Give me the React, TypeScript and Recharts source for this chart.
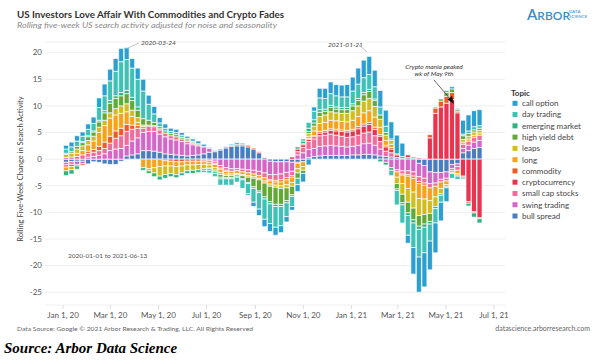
import React from 'react';
import { BarChart, Bar, XAxis, YAxis, CartesianGrid } from 'recharts';

// weekly buckets, 2020-01-05 .. 2021-06-13 (days counted from 2020-01-01)
const originDate = Date.UTC(2020, 0, 1);
const firstWeek = Date.UTC(2020, 0, 5);
const lastWeek = Date.UTC(2021, 5, 13);
const DAY = 86400000;

const topics = ['call option', 'day trading', 'emerging market', 'high yield debt', 'leaps', 'long', 'commodity', 'cryptocurrency', 'small cap stocks', 'swing trading', 'bull spread'];
const topicColors = ['#2b9fd0', '#3fc1b6', '#2db37c', '#62a937', '#d2bc22', '#f8a21c', '#ed5b26', '#e8344e', '#f06c9b', '#d466c8', '#4a7cc0'];

const callOption = [0.7, 0.9, 1.0, 0.8, 1.0, 1.2, 1.8, 2.2, 2.2, 2.4, 2.5, 2.2, 1.8, 2.1, 2.2, 1.7, 1.4, 1.0, 0.8, 0.6, 0.6, 0.5, 0.4, 0.4, 0.5, 0.4, 0.2, 0.2, 0.2, 0.2, 0.2, 0.3, 0.2, -0.3, -0.8, -1.2, -1.4, -1.5, -1.5, -1.3, -1.0, -0.7, -1.3, -1.6, -1.1, 0.8, 1.8, 1.9, 2.2, 2.1, 2.2, 2.3, 2.6, 3.0, 3.3, 3.4, 3.1, 3.1, 3.0, 3.2, 3.5, 2.5, -1.5, -5.0, -6.6, -6.4, -5.4, -5.6, -3.5, -2.6, 0.4, 0.2, 2.6, 3.0, 3.0, 3.0];
const dayTrading = [0.8, 0.9, 1.0, 1.0, 1.2, 1.4, 2.4, 2.8, 3.7, 4.6, 5.8, 5.8, 5.5, 5.2, 5.2, 3.0, 1.6, 0.7, 0.5, 0.4, 0.4, 0.4, 0.3, 0.2, -0.2, -0.4, -0.5, -0.6, -1.2, -1.2, -1.2, -0.9, -1.6, -1.9, -2.6, -3.1, -3.8, -3.7, -3.9, -3.6, -2.6, -1.9, -1.2, 0.4, 1.1, 1.6, 2.2, 2.0, 2.2, 2.1, 2.0, 2.0, 2.4, 2.7, 2.8, 2.8, 2.3, 1.5, 1.2, -1.0, -2.7, -3.4, -3.7, -4.6, -5.2, -4.8, -3.2, -2.7, -1.3, 0.4, -0.9, -0.6, 0.3, 0.5, 0.6, 0.5];
const emergingMarket = [-0.9, -0.8, -0.6, 0.2, 0.2, 0.2, 0.3, 0.4, 0.5, 0.5, 0.6, 0.6, 0.6, 0.6, -0.5, -0.5, -0.7, -0.7, -0.7, -0.6, -0.6, -0.5, -0.5, -0.6, -0.5, -0.3, -0.3, -0.3, -0.3, -0.2, -0.2, -0.2, -0.2, -0.2, -0.3, -0.3, -0.4, -0.4, -0.4, -0.4, -0.4, -0.3, 0.4, 0.5, 0.6, 0.6, 0.5, 0.4, 0.4, 0.4, 0.4, 0.4, 0.4, 0.4, 0.4, 0.4, 0.3, -0.5, -0.5, -0.5, -0.3, -0.4, -0.5, -0.6, -0.6, -0.6, -0.5, -0.4, -0.3, -0.2, 0, -0.2, -0.3, -0.5, -0.8, -0.8];
const highYieldDebt = [0.2, 0.3, 0.5, 0.6, 0.7, 0.8, 1.0, 1.4, 1.8, 1.9, 1.9, 1.9, 1.8, 1.4, 1.2, 0.9, 0.6, 0.4, 0.4, 0.4, 0.4, 0.3, 0.3, 0.2, 0.2, 0.1, -0.1, -0.3, -0.5, -0.4, -0.4, -0.3, -0.6, -1.0, -1.6, -2.1, -2.6, -2.9, -3.2, -3.0, -2.4, -1.6, -1.0, -0.6, 0.4, 0.6, 0.8, 0.7, 0.8, 0.7, 0.7, 0.7, 0.9, 1.0, 1.2, 1.3, 1.1, 0.8, 0.5, 0.3, -1.0, -1.6, -2.0, -2.2, -2.0, -1.8, -1.5, 0.2, 0.4, 0.7, 0.7, 0.3, 0.7, 0.5, 0.4, 0.4];
const leaps = [0.6, 0.7, 0.8, 0.9, 0.8, 0.9, 1.0, 1.0, 1.0, 1.2, 1.4, 1.5, 1.2, 0.9, 0.3, -0.4, -1.0, -1.8, -1.6, -1.4, -1.5, -1.3, -1.1, -1.0, -1.0, -0.8, -0.6, -0.5, -0.4, -0.3, -0.3, -0.2, -0.2, -0.3, -0.3, -0.3, -0.4, -0.4, -0.4, -0.5, -0.6, -0.7, -0.8, -0.7, 0.5, 0.9, 1.3, 1.4, 1.6, 1.5, 1.5, 1.6, 1.8, 2.0, 2.2, 2.3, 2.0, 1.5, 1.0, 0.7, -1.2, -2.0, -2.6, -3.0, -3.2, -2.9, -2.4, -1.8, -1.0, -0.4, -0.2, -0.3, 0.5, 0.5, 0.6, 0.5];
const long = [-0.7, -0.6, 0.6, 0.8, 1.2, 1.6, 2.6, 3.1, 3.4, 3.0, 2.8, 2.4, 1.6, 0.6, -1.6, -1.8, -1.6, -1.4, -1.0, -0.9, -0.9, -0.8, -0.7, -0.7, -0.6, -0.5, -0.5, -0.6, -0.6, -0.5, -0.5, -0.5, -0.5, -0.5, -0.5, -0.5, -0.6, -0.6, -0.6, -0.7, -0.9, -1.0, -1.0, -0.9, 0.4, 0.9, 1.5, 1.5, 1.6, 1.6, 1.6, 1.6, 1.7, 1.9, 2.1, 2.2, 1.9, 1.4, 0.9, 0.6, -1.0, -1.6, -2.3, -2.6, -2.8, -2.6, -2.4, -2.0, -1.2, -0.7, -0.3, -0.6, 0.4, 0.4, 0.4, 0.4];
const commodity = [-0.4, -0.4, -0.3, -0.3, 0.4, 0.5, 0.8, 1.2, 1.3, 1.4, 1.4, 1.3, 0.8, 0.5, 0.3, 0.2, 0.2, 0.2, -0.3, -0.4, -0.5, -0.5, -0.4, -0.4, -0.4, -0.3, -0.3, -0.2, -0.2, -0.2, 0.2, 0.3, 0.3, 0.3, 0.2, 0.2, 0.1, -0.2, -0.3, -0.4, -0.4, -0.3, -0.2, 0.2, 0.2, 0.2, 0.3, 0.3, 0.3, 0.3, 0.3, 0.3, 0.3, 0.4, 0.4, 0.4, 0.4, 0.3, 0.3, 0.3, 0.2, -0.2, -0.3, -0.4, -0.4, -0.4, 0.6, 1.0, 1.1, 1.3, 1.3, 0.3, -0.2, -0.3, -0.2, -0.2];
const cryptocurrency = [0, 0, 0, 0, 0, 0, 0, 0, 0, 0, 0, 0, 0, 0, 0, 0, 0, 0, 0, 0, 0, 0, 0, 0, 0, 0, 0, 0, 0, 0, 0, 0, 0, 0, 0, 0, 0, 0, 0, 0, 0, 0.4, 0.5, 0.5, 0.4, 0.4, 0.5, 0.6, 0.7, 0.8, 0.9, 1.0, 1.1, 1.2, 1.3, 1.4, 1.2, 1.0, 0.8, 0.7, 0.5, 0.3, 0.5, 0.2, 0.2, 0.1, 4.0, 8.6, 9.8, 10.5, 11.2, 8.7, -3.2, -8.0, -9.9, -11.0];
const smallCapStocks = [-0.5, -0.5, 0.5, 0.8, 0.7, 0.8, 0.9, 1.0, 1.4, 2.0, 2.4, 2.6, 2.2, 1.8, 0.8, 1.0, 0.9, 0.8, 0.7, 0.6, 0.6, 0.5, 0.4, 0.3, 0.2, -0.2, -0.3, -0.4, -0.5, -0.5, -0.5, -0.4, -0.5, -0.6, -0.7, -0.8, -0.9, -1.0, -1.1, -1.1, -1.0, -0.8, 0.6, 1.0, 1.5, 1.8, 2.0, 2.0, 2.1, 2.0, 1.9, 1.8, 1.8, 1.9, 2.0, 2.1, 1.8, 1.4, 1.0, 0.8, -0.4, -0.6, -0.7, -0.8, -0.9, -0.9, -0.8, -0.6, -0.5, -0.5, -0.4, -0.7, 0.8, 0.8, 0.9, 1.0];
const swingTrading = [0.3, 0.4, -0.6, -0.5, 0.4, 0.5, 0.7, 1.0, 1.6, 1.9, 2.0, 2.0, 2.6, 3.0, 3.4, 3.6, 3.7, 3.4, 3.2, 2.9, 2.8, 2.6, 2.3, 2.0, 1.7, 1.3, 0.7, -0.4, -1.2, -1.6, -1.8, -1.8, -1.9, -2.0, -2.1, -2.3, -2.6, -2.5, -2.4, -2.3, -2.0, -1.7, 0.8, 1.2, 1.5, 1.5, 1.8, 1.8, 1.9, 1.8, 1.7, 1.6, 1.6, 1.8, 2.0, 2.1, 1.8, 1.3, -0.6, -1.6, -2.0, -2.2, -2.2, -2.4, -2.5, -2.4, -2.2, -2.0, -1.3, -1.2, -0.8, -0.5, 0.8, 1.0, 1.2, 1.3];
const bullSpread = [-0.6, -0.5, -0.4, -0.4, -0.9, -0.5, -0.6, -0.9, -1.0, -1.0, -0.4, 0.6, 0.8, 1.0, 1.6, 1.6, 1.5, 1.3, 1.0, 0.9, 0.8, 0.7, 0.6, 0.7, 0.8, 1.0, 1.3, 1.4, 1.7, 2.1, 2.4, 2.5, 2.5, 2.3, 1.9, 1.2, 0.3, -0.4, -0.5, -0.5, -0.5, -0.6, -0.6, -0.5, 0.3, 0.5, 0.6, 0.7, 0.7, 0.7, 0.7, 0.7, 0.8, 0.8, 0.9, 0.9, 0.8, 0.6, 0.5, 0.4, 0.3, 0.2, 0.3, 0.2, -0.8, -1.2, -2.4, -2.5, -2.5, -2.4, -1.0, -0.9, 1.2, 1.6, 2.0, 2.2];

const seriesValues = [callOption, dayTrading, emergingMarket, highYieldDebt, leaps, long, commodity, cryptocurrency, smallCapStocks, swingTrading, bullSpread];

const tickDates = ['2020-01-01', '2020-03-01', '2020-05-01', '2020-07-01', '2020-09-01', '2020-11-01', '2021-01-01', '2021-03-01', '2021-05-01', '2021-07-01'];
const tickLabels = ['Jan 1, 20', 'Mar 1, 20', 'May 1, 20', 'Jul 1, 20', 'Sep 1, 20', 'Nov 1, 20', 'Jan 1, 21', 'Mar 1, 21', 'May 1, 21', 'Jul 1, 21'];
const yTicks = [-25, -20, -15, -10, -5, 0, 5, 10, 15, 20];

const toDay = (iso: string) => (Date.parse(iso + 'T00:00:00Z') - originDate) / DAY;
const tickDays = tickDates.map(toDay);

const weekDays: number[] = [];
for (let t = firstWeek; t <= lastWeek; t += 7 * DAY) weekDays.push((t - originDate) / DAY);

const rows = weekDays.map((day, i) => {
  const row: Record<string, number> = { day };
  topics.forEach((name, k) => { row[name] = seriesValues[k][i]; });
  return row;
});

// stack order: closest to zero first
const stackOrder = [...topics].reverse();

const FONT = 'Lato, "Open Sans", sans-serif';

export default function App() {
  return (
    <div style={{ position: 'relative', width: 601, height: 360, background: '#fff', fontFamily: FONT }}>
      <style>{'body{margin:0}'}</style>
      <div style={{ position: 'absolute', left: 0, top: 0 }}>
        <BarChart width={601} height={360} data={rows} stackOffset="sign" margin={{ top: 42, right: 96, bottom: 35, left: 0 }}>
          <CartesianGrid vertical={false} stroke="#eeeeee" />
          <XAxis
            dataKey="day"
            type="number"
            domain={[-23, 561]}
            ticks={tickDays}
            tickFormatter={(v: number) => tickLabels[tickDays.indexOf(v)] ?? ''}
            height={20}
            axisLine={false}
            tickLine={{ stroke: '#dddddd' }}
            tickSize={4}
            tickMargin={3}
            tick={{ fill: '#555', fontSize: 8, fontFamily: FONT }}
          />
          <YAxis
            type="number"
            domain={[-27.4, 22]}
            ticks={yTicks}
            width={45}
            axisLine={false}
            tickLine={false}
            tickSize={0}
            tickMargin={3}
            allowDataOverflow
            tick={{ fill: '#555', fontSize: 8, fontFamily: FONT }}
          />
          {stackOrder.map((name) => (
            <Bar
              key={name}
              dataKey={name}
              stackId="t"
              barSize={5}
              fill={topicColors[topics.indexOf(name)]}
              stroke="#ffffff"
              strokeWidth={0.7}
              isAnimationActive={false}
            />
          ))}
        </BarChart>
      </div>
      <svg width={601} height={360} style={{ position: 'absolute', left: 0, top: 0, pointerEvents: 'none' }} fontFamily={FONT}>
        <text x={17} y={18} fontSize={9.5} fontWeight={700} fill="#333" textLength={267} lengthAdjust="spacingAndGlyphs">
          US Investors Love Affair With Commodities and Crypto Fades
        </text>
        <text x={17} y={28} fontSize={8} fontStyle="italic" fill="#8a8a8a" textLength={260} lengthAdjust="spacingAndGlyphs">
          Rolling five-week US search activity adjusted for noise and seasonality
        </text>
        <text x={527} y={20} fill="#3a8cc1" fontWeight={600}>
          <tspan fontSize={15}>A</tspan><tspan fontSize={12}>RBOR</tspan>
        </text>
        <text x={569} y={13} fontSize={4.5} fill="#3a8cc1">DATA</text>
        <text x={569} y={18} fontSize={4.5} fill="#3a8cc1">SCIENCE</text>

        <line x1={128} y1={48} x2={139} y2={43} stroke="#aaa" strokeWidth={0.7} />
        <text x={141} y={45} fontSize={6.5} fontStyle="italic" fill="#444">2020-03-24</text>
        <text x={328} y={47} fontSize={6.5} fontStyle="italic" fill="#444">2021-01-21</text>
        <line x1={359} y1={45} x2={367} y2={52} stroke="#aaa" strokeWidth={0.7} />
        <text x={434} y={69} fontSize={6.5} fontStyle="italic" fill="#333" textAnchor="middle">Crypto mania peaked</text>
        <text x={434} y={76} fontSize={6.5} fontStyle="italic" fill="#333" textAnchor="middle">wk of May 9th</text>
        <line x1={434} y1={80} x2={451} y2={100} stroke="#444" strokeWidth={0.8} />
        <polygon points="454,104 447.5,99.5 452,96" fill="#111" />

        <text x={68} y={258} fontSize={6.5} fill="#555">2020-01-01 to 2021-06-13</text>
        <text transform="translate(23,169) rotate(-90)" fontSize={7.5} fill="#444" textAnchor="middle">
          Rolling Five-Week Change in Search Activity
        </text>

        <text x={511} y={96} fontSize={8} fontWeight={700} fill="#333">Topic</text>
        {topics.map((name, k) => (
          <g key={name}>
            <rect x={512.5} y={100.8 + k * 11.27} width={5} height={5} fill={topicColors[k]} />
            <text x={522} y={106.2 + k * 11.27} fontSize={8} fill="#444">{name}</text>
          </g>
        ))}

        <text x={17} y={331} fontSize={6.5} fill="#666" textLength={236} lengthAdjust="spacingAndGlyphs">
          Data Source: Google © 2021 Arbor Research &amp; Trading, LLC. All Rights Reserved
        </text>
        <text x={590} y={331} fontSize={7} fill="#666" textAnchor="end">datascience.arborresearch.com</text>
        <text x={4} y={353} fontSize={15} fontWeight={700} fontStyle="italic" fill="#000" fontFamily='"Liberation Serif", "Times New Roman", serif'>
          Source: Arbor Data Science
        </text>
      </svg>
    </div>
  );
}
